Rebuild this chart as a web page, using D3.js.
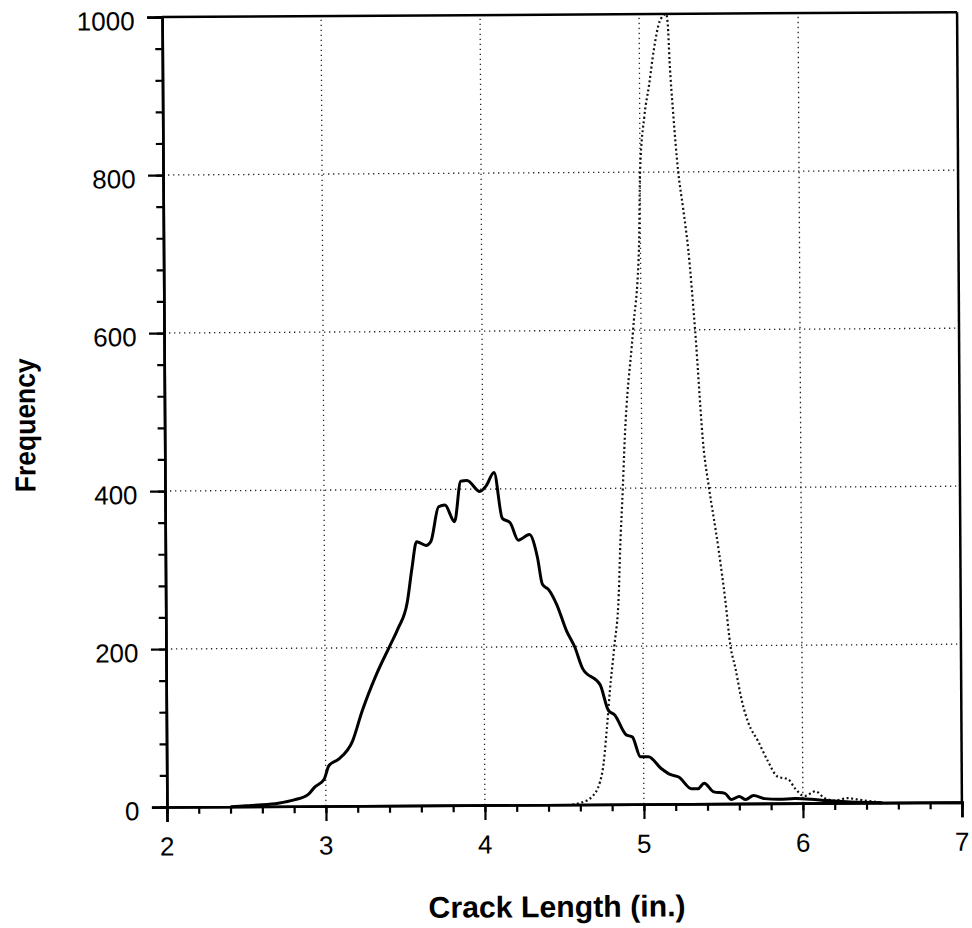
<!DOCTYPE html>
<html>
<head>
<meta charset="utf-8">
<script src="https://cdn.jsdelivr.net/npm/d3@7"></script>
<style>
  html, body { margin: 0; padding: 0; background: #fff; }
  svg { display: block; }
</style>
</head>
<body>
<svg id="chart" width="972" height="928"></svg>
<script>
// ---- data ----
const xTicks = [2, 3, 4, 5, 6, 7];
const yTicks = [0, 200, 400, 600, 800, 1000];
const xLabel = "Crack Length (in.)";
const yLabel = "Frequency";

// solid series: [crack length, frequency]
const solidX = [2.40,2.50,2.60,2.70,2.80,2.89,2.93,2.99,3.02,3.08,3.17,3.23,3.32,3.41,3.46,3.52,3.55,3.58,3.64,3.67,3.72,3.76,3.82,3.86,3.90,3.98,4.02,4.07,4.12,4.17,4.22,4.29,4.34,4.37,4.41,4.46,4.52,4.57,4.62,4.73,4.78,4.82,4.89,4.93,4.98,5.03,5.11,5.17,5.22,5.30,5.34,5.38,5.44,5.51,5.55,5.60,5.64,5.69,5.76,5.85,5.95,6.05,6.15,6.30,6.50];
const solidY = [0,1,2,4,8,15,24,34,51,59,82,119,165,203,224,258,300,334,329,334,378,380,359,410,411,397,404,421,363,357,335,342,313,279,272,253,220,200,172,151,119,113,88,85,60,60,45,37,34,19,19,26,15,13,5,9,5,10,6,5,6,5,3,1,0];

// dotted series
const dottedX = [4.55,4.60,4.68,4.74,4.77,4.79,4.82,4.85,4.86,4.88,4.89,4.95,4.99,5.00,5.03,5.06,5.09,5.13,5.17,5.18,5.19,5.21,5.24,5.27,5.30,5.34,5.39,5.42,5.48,5.52,5.55,5.58,5.62,5.66,5.72,5.78,5.84,5.91,5.95,6.01,6.08,6.13,6.20,6.28,6.35,6.42,6.50];
const dottedY = [0,2,11,41,96,143,200,266,321,402,448,600,702,800,872,910,953,991,1000,987,940,876,800,753,702,600,448,402,321,257,200,172,130,102,79,54,34,30,19,9,15,7,3,6,4,2,0];

// ---- layout ----
const L = 164.5, R = 959.5, T = 14.6, B = 804.6;
const svg = d3.select("#chart");
const g = svg.append("g").attr("transform", "rotate(-0.35, 562, 410)");

const x = d3.scaleLinear().domain([2, 7]).range([L, R]);
const y = d3.scaleLinear().domain([0, 1000]).range([B, T]);

// grid
const gridX = xTicks.filter(d => d > 2 && d < 7);
const gridY = yTicks.filter(d => d > 0 && d < 1000);
g.append("g").selectAll("line").data(gridX).join("line")
  .attr("x1", d => x(d)).attr("x2", d => x(d))
  .attr("y1", y(0)).attr("y2", y(1000))
  .attr("stroke", "#222").attr("stroke-width", 1.3)
  .attr("stroke-dasharray", "1.3,3.7");
g.append("g").selectAll("line").data(gridY).join("line")
  .attr("y1", d => y(d)).attr("y2", d => y(d))
  .attr("x1", x(2)).attr("x2", x(7))
  .attr("stroke", "#222").attr("stroke-width", 1.3)
  .attr("stroke-dasharray", "1.3,3.7");

// curves
const solid = solidX.map((d, i) => [d, solidY[i]]);
const dotted = dottedX.map((d, i) => [d, dottedY[i]]);
const line = d3.line().x(d => x(d[0])).y(d => y(d[1])).curve(d3.curveMonotoneX);

g.append("path").datum(dotted).attr("d", line)
  .attr("fill", "none").attr("stroke", "#111").attr("stroke-width", 2.2)
  .attr("stroke-dasharray", "2,2.6");
g.append("path").datum(solid).attr("d", line)
  .attr("fill", "none").attr("stroke", "#000").attr("stroke-width", 3)
  .attr("stroke-linejoin", "round");

// frame: top and right
g.append("line").attr("x1", x(2)).attr("x2", x(7)).attr("y1", y(1000)).attr("y2", y(1000))
  .attr("stroke", "#000").attr("stroke-width", 2.5);
g.append("line").attr("x1", x(7)).attr("x2", x(7)).attr("y1", y(1000)).attr("y2", y(0))
  .attr("stroke", "#000").attr("stroke-width", 2.5);

// axes via d3
const xAxis = d3.axisBottom(x).tickValues(xTicks).tickSize(15).tickFormat("");
const xMinor = d3.axisBottom(x).tickValues(d3.range(2, 7.001, 0.2)).tickSize(7).tickFormat("");
const yAxis = d3.axisLeft(y).tickValues(yTicks).tickSize(15).tickFormat("");
const yMinor = d3.axisLeft(y).tickValues(d3.range(0, 1000.1, 40)).tickSize(7).tickFormat("");

function styleAxis(sel) {
  sel.select(".domain").attr("stroke", "#000").attr("stroke-width", 2.6);
  sel.selectAll(".tick line").attr("stroke", "#000").attr("stroke-width", 2.2);
}
g.append("g").attr("transform", `translate(0,${B})`).call(xMinor).call(styleAxis);
g.append("g").attr("transform", `translate(0,${B})`).call(xAxis).call(styleAxis);
g.append("g").attr("transform", `translate(${L},0)`).call(yMinor).call(styleAxis);
g.append("g").attr("transform", `translate(${L},0)`).call(yAxis).call(styleAxis);

// tick labels
const tickFont = "'Liberation Sans', Arial, sans-serif";
g.append("g").selectAll("text").data(xTicks).join("text")
  .attr("x", d => x(d)).attr("y", B + 48.5)
  .attr("text-anchor", "middle")
  .attr("font-family", tickFont).attr("font-size", 26).attr("fill", "#000")
  .text(d => d);
g.append("g").selectAll("text").data(yTicks).join("text")
  .attr("x", L - 27.5).attr("y", d => y(d) + 13)
  .attr("text-anchor", "end")
  .attr("font-family", tickFont).attr("font-size", 26).attr("fill", "#000")
  .text(d => d);

// axis titles
const titleFont = "'Liberation Sans', Arial, Helvetica, sans-serif";
g.append("text").attr("x", 554).attr("y", 917)
  .attr("text-anchor", "middle")
  .attr("font-family", titleFont).attr("font-weight", "bold").attr("font-size", 30)
  .attr("textLength", 257).attr("lengthAdjust", "spacingAndGlyphs")
  .text(xLabel);
g.append("text").attr("transform", "translate(35,422) rotate(-90)")
  .attr("text-anchor", "middle")
  .attr("font-family", titleFont).attr("font-weight", "bold").attr("font-size", 29)
  .attr("textLength", 134).attr("lengthAdjust", "spacingAndGlyphs")
  .text(yLabel);
</script>
</body>
</html>
